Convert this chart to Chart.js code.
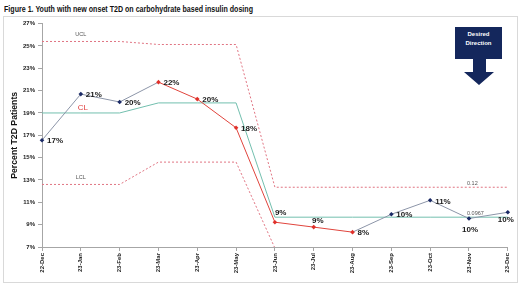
<!DOCTYPE html>
<html><head><meta charset="utf-8">
<script src="https://cdn.jsdelivr.net/npm/chart.js@4.4.0/dist/chart.umd.min.js"></script>
<style>
html,body{margin:0;padding:0;background:#fff;width:520px;height:285px;overflow:hidden;}
#title{position:absolute;left:4px;top:4px;line-height:10px;font:bold 9px 'Liberation Sans Narrow','Liberation Sans',Arial,sans-serif;color:#111;white-space:nowrap;transform-origin:0 0;}
#frame{position:absolute;left:3px;top:16px;width:515px;height:267px;border:1px solid #d9d9d9;box-sizing:border-box;}
#wrap{position:absolute;left:5px;top:17px;width:512px;height:265px;}
#dd{position:absolute;left:455px;top:27px;width:47px;height:32px;background:#14275c;color:#fff;font:bold 6px 'Liberation Sans',Arial,sans-serif;line-height:9px;text-align:center;padding-top:3px;box-sizing:border-box;}
#arrow{position:absolute;left:462px;top:58px;}
</style></head>
<body>
<div id="title">Figure 1. Youth with new onset T2D on carbohydrate based insulin dosing</div>
<div id="frame"></div>
<div id="wrap"><canvas id="c" width="512" height="265"></canvas></div>
<div id="dd">Desired<br>Direction</div>
<svg id="arrow" width="34" height="28"><polygon points="11,0 24,0 24,14 32,14 17,27 2,14 11,14" fill="#14275c"/></svg>
<script>
const categories = ['22-Dec','23-Jan','23-Feb','23-Mar','23-Apr','23-May','23-Jun','23-Jul','23-Aug','23-Sep','23-Oct','23-Nov','23-Dec'];
const percentT2D = [16.56,20.69,19.98,21.76,20.24,17.67,9.22,8.78,8.33,9.93,11.18,9.55,10.11];
const signal     = [0,0,0,1,1,1,1,1,1,0,0,0,0];
const centerLine = [19,19,19,19.9,19.9,19.9,9.67,9.67,9.67,9.67,9.67,9.67,9.67];
const upperLimit = [25.4,25.4,25.4,25.13,25.13,25.13,12.35,12.35,12.35,12.35,12.35,12.35,12.35];
const lowerLimit = [12.6,12.6,12.6,14.6,14.6,14.6,6.9,6.9,6.9,6.9,6.9,6.9,6.9];
const yMin = 7, yMax = 27, yStep = 2;

// fit title width
(function(){
  const t=document.getElementById('title');
  const w=t.getBoundingClientRect().width;
  t.style.transform='scaleX('+(249/w)+')';
})();

const NAVY='#1b2a66', RED='#e0302a', GRAYLINE='#8c95a8', REDLINE='#e0443c', TEAL='#72bfae', LIMIT='#e07482';
const FONT="'Liberation Sans',Arial,sans-serif";

const labelPlace=['r','r','r','r','r','r','ar','a','r','r','r','b','bl'];

const labelsPlugin={
  id:'pointLabels',
  afterDatasetsDraw(chart){
    const ctx=chart.ctx;
    const meta=chart.getDatasetMeta(0);
    ctx.save();
    ctx.font='bold 8px '+FONT;
    ctx.fillStyle='#1a1a1a';
    ctx.textBaseline='middle';
    meta.data.forEach((pt,i)=>{
      const txt=Math.round(percentT2D[i])+'%';
      let x=pt.x,y=pt.y;
      switch(labelPlace[i]){
        case 'r': ctx.textAlign='left'; x+=5; y+=1; break;
        case 'ar': ctx.textAlign='left'; x+=0; y-=9; break;
        case 'a': ctx.textAlign='center'; x+=4; y-=6; break;
        case 'b': ctx.textAlign='center'; x+=1; y+=11; break;
        case 'bl': ctx.textAlign='right'; x+=6; y+=8; break;
      }
      ctx.fillText(txt,x,y);
    });
    // control-limit annotations
    const xs=chart.scales.x, ys=chart.scales.y;
    ctx.font='5.5px '+FONT; ctx.fillStyle='#555'; ctx.textAlign='center';
    ctx.fillText('UCL',xs.getPixelForValue(1),ys.getPixelForValue(upperLimit[1])-7);
    ctx.fillText('LCL',xs.getPixelForValue(1),ys.getPixelForValue(lowerLimit[1])-7);
    ctx.textAlign='left';
    const n=categories.length-2;
    ctx.fillText((upperLimit[n]/100).toFixed(2),xs.getPixelForValue(n)-2,ys.getPixelForValue(upperLimit[n])-4);
    ctx.fillText((centerLine[n]/100).toFixed(4),xs.getPixelForValue(n)-2,ys.getPixelForValue(centerLine[n])-4);
    ctx.font='8px '+FONT; ctx.fillStyle='#e04040'; ctx.textAlign='center';
    ctx.fillText('CL',xs.getPixelForValue(1)+2,ys.getPixelForValue(centerLine[1])-5);
    ctx.restore();
  }
};

const axisGrid={drawOnChartArea:false,drawTicks:true,tickLength:4,color:'#a6a6a6'};
new Chart(document.getElementById('c'),{
  type:'line',
  data:{labels:categories,datasets:[
    {label:'Percent',data:percentT2D,order:0,borderWidth:1,borderColor:GRAYLINE,
     segment:{borderColor:c=>(signal[c.p0DataIndex]&&signal[c.p1DataIndex])?REDLINE:GRAYLINE},
     pointStyle:'rectRot',pointRadius:2.3,pointBorderWidth:0,
     pointBackgroundColor:signal.map(s=>s?RED:NAVY),tension:0},
    {label:'CL',data:centerLine,order:1,borderWidth:1,borderColor:TEAL,pointRadius:0,tension:0},
    {label:'UCL',data:upperLimit,order:2,borderWidth:1,borderColor:LIMIT,borderDash:[2,2],pointRadius:0,tension:0,clip:0},
    {label:'LCL',data:lowerLimit,order:3,borderWidth:1,borderColor:LIMIT,borderDash:[2,2],pointRadius:0,tension:0,clip:0}
  ]},
  options:{
    responsive:false,animation:false,
    layout:{padding:{top:5,right:8,left:0,bottom:0}},
    plugins:{legend:{display:false},tooltip:{enabled:false}},
    scales:{
      x:{type:'category',offset:false,grid:axisGrid,border:{color:'#a6a6a6'},
         ticks:{autoSkip:false,minRotation:90,maxRotation:90,padding:2,color:'#222',font:{family:FONT,size:6,weight:'bold'}},
         afterFit(s){s.height=35;}},
      y:{min:yMin,max:yMax,grid:axisGrid,border:{color:'#a6a6a6'},
         ticks:{stepSize:yStep,padding:3,color:'#222',font:{family:FONT,size:6,weight:'bold'},callback:v=>v+'%'},
         title:{display:true,text:'Percent T2D Patients',color:'#111',font:{family:FONT,size:8.7,weight:'bold'},padding:{top:4,bottom:0}},
         afterFit(s){s.width=37;}}
    }
  },
  plugins:[labelsPlugin]
});
</script>
</body></html>
